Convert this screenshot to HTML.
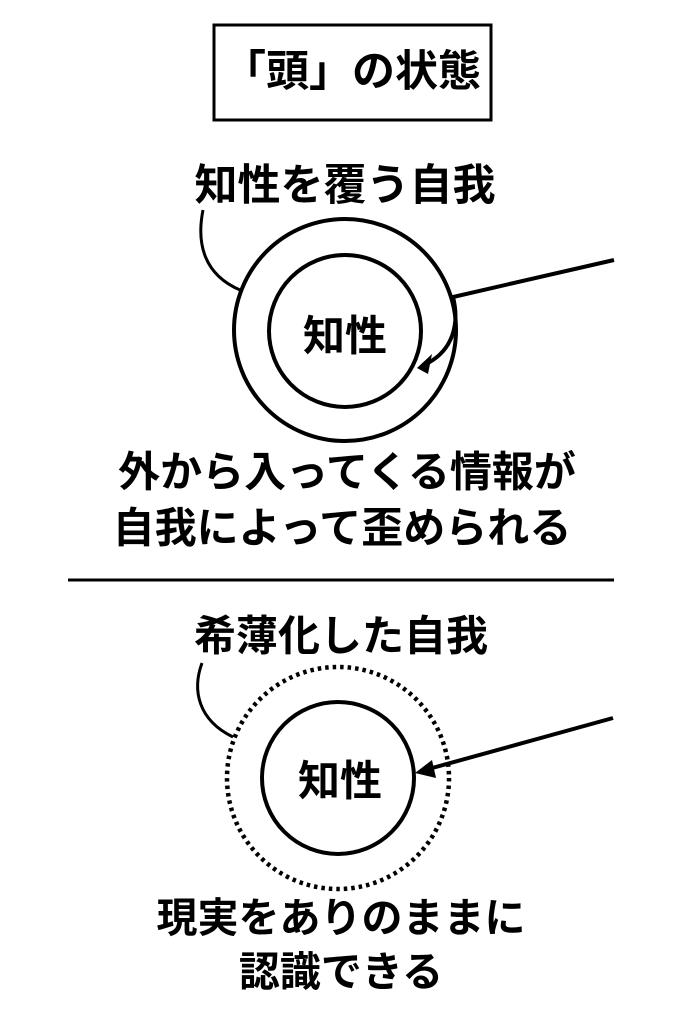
<!DOCTYPE html>
<html><head><meta charset="utf-8"><style>
body{margin:0;background:#fff}
svg{display:block}
text{font-family:"Liberation Sans","Noto Sans CJK JP",sans-serif;font-weight:bold;fill:#000;text-anchor:middle;dominant-baseline:central}
</style></head><body>
<svg width="683" height="1024" viewBox="0 0 683 1024">
<rect x="214" y="25" width="277" height="95" fill="none" stroke="#000" stroke-width="3"/>
<text x="352" y="72" font-size="43">「頭」の状態</text>
<text x="345" y="186" font-size="43">知性を覆う自我</text>
<path d="M203 210 C196 245 205 275 240 290" fill="none" stroke="#000" stroke-width="3"/>
<circle cx="345" cy="330" r="111" fill="none" stroke="#000" stroke-width="4"/>
<circle cx="345" cy="331" r="76" fill="none" stroke="#000" stroke-width="4"/>
<text x="345" y="336" font-size="42">知性</text>
<path d="M614 260 L453 297 C460 325 452 350 428 363" fill="none" stroke="#000" stroke-width="4"/>
<polygon points="417,368 432,354 428,374" fill="#000"/>
<text x="347" y="472" font-size="42">外から入ってくる情報が</text>
<text x="342" y="528" font-size="42">自我によって歪められる</text>
<line x1="68" y1="580" x2="614" y2="580" stroke="#000" stroke-width="3"/>
<text x="341" y="636" font-size="42">希薄化した自我</text>
<path d="M202 663 C192 690 198 720 233 737" fill="none" stroke="#000" stroke-width="3"/>
<circle cx="338" cy="778" r="111" fill="none" stroke="#000" stroke-width="4.5" stroke-dasharray="3.5 4"/>
<circle cx="338" cy="778" r="76" fill="none" stroke="#000" stroke-width="4"/>
<text x="340" y="781" font-size="42">知性</text>
<line x1="613" y1="718" x2="425" y2="770" stroke="#000" stroke-width="4"/>
<polygon points="415,773 432,760 436,778" fill="#000"/>
<text x="341" y="918" font-size="41">現実をありのままに</text>
<text x="341" y="972" font-size="41">認識できる</text>
</svg>
</body></html>
